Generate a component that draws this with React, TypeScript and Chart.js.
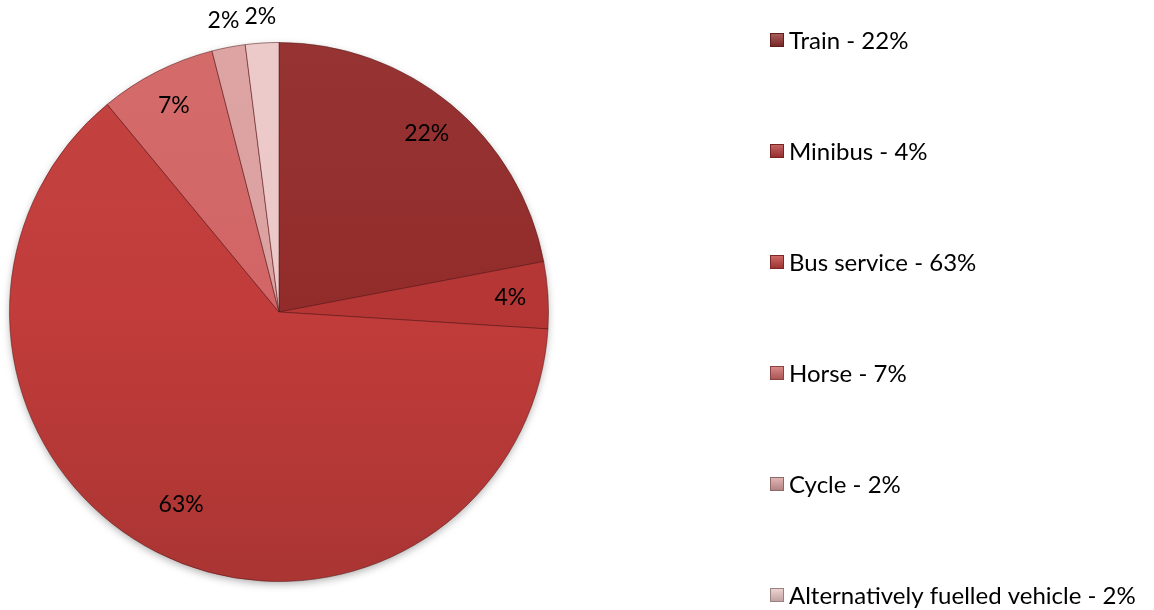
import React, { useEffect, useRef } from "react";
import { Chart, registerables } from "chart.js";

Chart.register(...registerables);

const categories = ["Train", "Minibus", "Bus service", "Horse", "Cycle", "Alternatively fuelled vehicle"];
const values = [22, 4, 63, 7, 2, 2];
const colors = ["#922c2b", "#b53634", "#c13c3a", "#d26565", "#dca0a0", "#ecc8c8"];

function shade(hex: string, f: number) {
  const n = parseInt(hex.slice(1), 16);
  let r = (n >> 16) & 255, g = (n >> 8) & 255, b = n & 255;
  const adj = (c: number) => Math.max(0, Math.min(255, Math.round(f >= 0 ? c + (255 - c) * f : c * (1 + f))));
  return `rgb(${adj(r)},${adj(g)},${adj(b)})`;
}

const legendPlugin = {
  id: "sideLegend",
  afterDraw(chart: any) {
    const ctx = chart.ctx;
    const labels = chart.data.labels as string[];
    const data = chart.data.datasets[0].data as number[];
    const total = data.reduce((a, b) => a + b, 0);
    ctx.save();
    ctx.font = "24px Lato, 'Open Sans', sans-serif";
    ctx.textBaseline = "middle";
    ctx.fillStyle = "#000";
    labels.forEach((lab, i) => {
      const y = 40 + i * 111;
      const x = 770;
      const g = ctx.createLinearGradient(0, y - 7, 0, y + 7);
      g.addColorStop(0, shade(colors[i], 0.25));
      g.addColorStop(1, shade(colors[i], -0.2));
      ctx.fillStyle = g;
      ctx.fillRect(x, y - 7, 14, 14);
      ctx.strokeStyle = shade(colors[i], -0.35);
      ctx.lineWidth = 1;
      ctx.strokeRect(x + 0.5, y - 6.5, 13, 13);
      ctx.fillStyle = "#000";
      ctx.fillText(`${lab} - ${Math.round((data[i] / total) * 100)}%`, 789, y + 1);
    });
    ctx.restore();
  },
};

const labelPlugin = {
  id: "pctLabels",
  afterDatasetsDraw(chart: any) {
    const ctx = chart.ctx;
    const meta = chart.getDatasetMeta(0);
    const data = chart.data.datasets[0].data as number[];
    const total = data.reduce((a, b) => a + b, 0);
    ctx.save();
    ctx.font = "23px Lato, 'Open Sans', sans-serif";
    ctx.textAlign = "center";
    ctx.textBaseline = "middle";
    ctx.fillStyle = "#000";
    meta.data.forEach((arc: any, i: number) => {
      const { x, y, startAngle, endAngle, outerRadius } = arc.getProps(["x", "y", "startAngle", "endAngle", "outerRadius"], true);
      const mid = (startAngle + endAngle) / 2;
      const pct = data[i] / total;
      let r: number;
      if (pct < 0.03) r = outerRadius + 27;
      else if (pct > 0.5) r = outerRadius * 0.8;
      else r = outerRadius * 0.86;
      const lx = x + Math.cos(mid) * r;
      const ly = y + Math.sin(mid) * r;
      ctx.fillText(`${Math.round(pct * 100)}%`, lx, ly);
    });
    ctx.restore();
  },
};

const shadowPlugin = {
  id: "pieShadow",
  beforeDatasetsDraw(chart: any) {
    const ctx = chart.ctx;
    const meta = chart.getDatasetMeta(0);
    const a = meta.data[0];
    if (!a) return;
    ctx.save();
    ctx.shadowColor = "rgba(0,0,0,0.35)";
    ctx.shadowBlur = 8;
    ctx.shadowOffsetY = 3;
    ctx.fillStyle = "#a33030";
    ctx.beginPath();
    ctx.arc(a.x, a.y, a.outerRadius - 1, 0, Math.PI * 2);
    ctx.fill();
    ctx.restore();
  },
};

export default function App() {
  const ref = useRef<HTMLCanvasElement | null>(null);
  useEffect(() => {
    if (!ref.current) return;
    const chart = new Chart(ref.current, {
      type: "pie",
      data: {
        labels: categories,
        datasets: [
          {
            data: values,
            backgroundColor: (c: any) => {
              const ch = c.chart;
              const area = ch.chartArea;
              const i = c.dataIndex;
              if (!area || i === undefined) return colors[i ?? 0];
              const g = ch.ctx.createLinearGradient(0, area.top, 0, area.bottom);
              g.addColorStop(0, shade(colors[i], 0.04));
              g.addColorStop(0.5, colors[i]);
              g.addColorStop(1, shade(colors[i], -0.12));
              return g;
            },
            borderColor: "rgba(90,25,25,0.55)",
            borderWidth: 1,
          },
        ],
      },
      options: {
        animation: false,
        responsive: false,
        layout: { padding: { left: 9, right: 605, top: 42, bottom: 28 } },
        plugins: { legend: { display: false }, tooltip: { enabled: false } },
      },
      plugins: [shadowPlugin, labelPlugin, legendPlugin],
    });
    return () => chart.destroy();
  }, []);
  return (
    <div style={{ position: "fixed", left: 0, top: 0, width: 1154, height: 610, background: "#fff" }}>
      <canvas ref={ref} width={1154} height={610} style={{ display: "block" }} />
    </div>
  );
}
